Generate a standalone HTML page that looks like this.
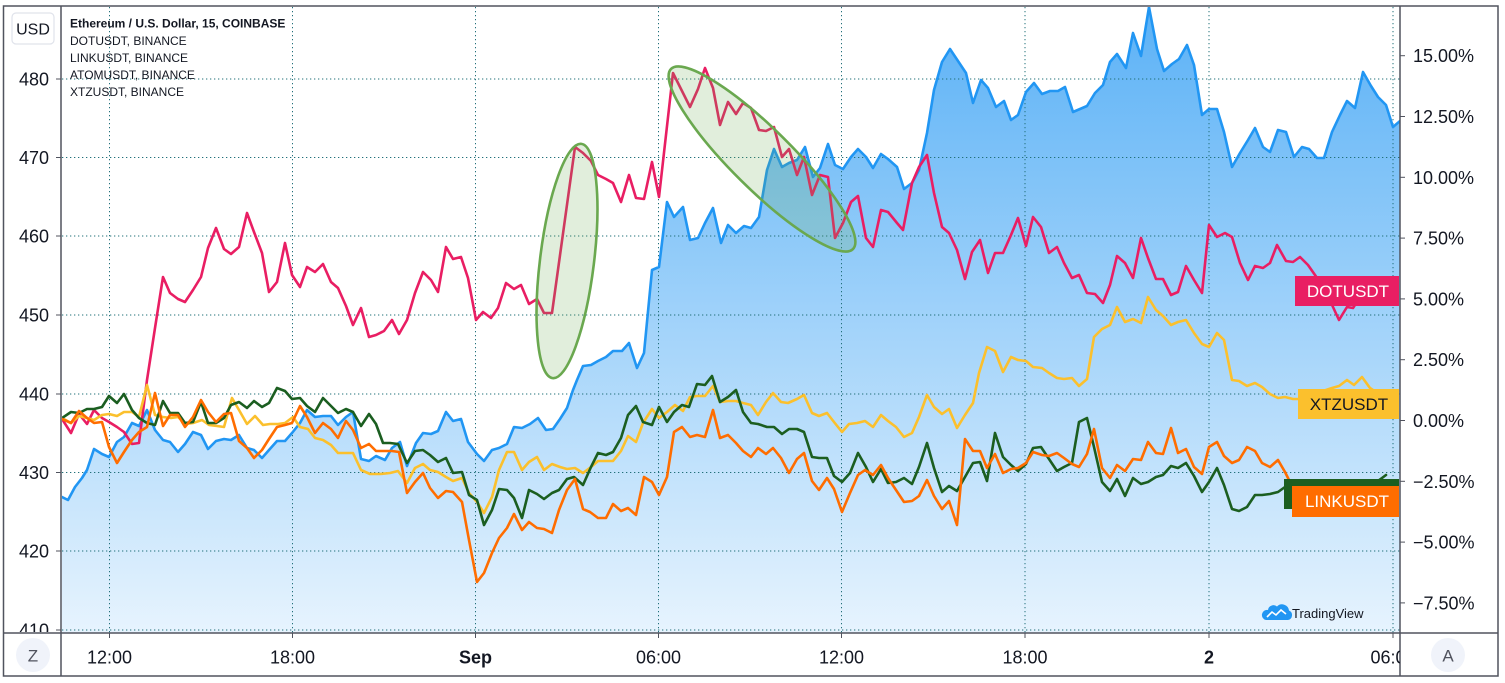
<!DOCTYPE html>
<html><head><meta charset="utf-8"><style>
html,body{margin:0;padding:0;background:#fff;}
svg{display:block;}
text{font-family:"Liberation Sans",sans-serif;}
</style></head><body>
<svg width="1505" height="683" viewBox="0 0 1505 683" xmlns="http://www.w3.org/2000/svg">
<defs>
<clipPath id="plot"><rect x="62" y="7" width="1338" height="626"/></clipPath>
<clipPath id="laxis"><rect x="4" y="7" width="57" height="625"/></clipPath>
<clipPath id="baxis"><rect x="62" y="634" width="1338" height="42"/></clipPath>
<linearGradient id="gf" gradientUnits="userSpaceOnUse" x1="0" y1="7" x2="0" y2="633">
<stop offset="0" stop-color="#2196f3" stop-opacity="0.74"/>
<stop offset="1" stop-color="#2196f3" stop-opacity="0.11"/>
</linearGradient>
</defs>
<rect width="1505" height="683" fill="#fff"/>

<g clip-path="url(#plot)">
<path fill="url(#gf)" stroke="none" d="M62,497 L68,500 75,487 82,478 87,470 94,449 102,454 109,457 117,442 124,437 132,423 139,426 147,410 155,430 163,440 170,442 178,452 185,444 193,432 201,435 208,449 216,441 224,439 231,440 239,435 247,448 254,450 262,458 269,450 277,441 285,441 292,433 300,423 307,410 315,417 323,416 331,416 338,425 346,417 353,412 361,459 369,461 376,456 385,460 392,448 400,442 407,466 416,443 423,433 431,434 438,431 446,412 453,421 461,419 468,442 477,454 484,461 492,450 499,448 507,444 514,427 522,428 530,424 538,418 546,430 553,429 560,419 567,408 573,390 577,380 583,366 591,365 598,361 606,357 613,351 622,351 629,343 637,368 644,353 652,270 659,267 667,202 674,217 683,207 690,240 698,238 705,223 713,208 721,243 728,225 736,233 744,226 751,228 759,217 767,170 774,149 782,167 789,163 797,160 805,147 813,177 820,168 828,144 835,165 843,169 851,157 858,149 866,157 873,168 881,154 888,159 897,167 904,189 912,183 919,170 927,133 934,90 942,62 950,49 958,61 966,73 973,103 981,80 988,88 996,107 1004,101 1011,120 1018,115 1026,92 1034,83 1042,94 1050,91 1058,91 1065,87 1073,112 1080,109 1087,106 1095,93 1103,85 1110,62 1117,54 1126,68 1133,33 1141,56 1149,7 1157,49 1164,71 1172,64 1179,59 1187,45 1194,65 1202,115 1209,109 1217,109 1224,132 1232,167 1240,153 1248,140 1255,128 1263,147 1270,152 1278,130 1286,132 1294,157 1302,147 1309,149 1317,158 1324,158 1332,132 1340,115 1347,101 1355,108 1363,72 1371,86 1378,97 1386,105 1393,127 1400,121 L1400,633 L62,633 Z"/>
</g>

<g stroke="#22707a" stroke-width="1" stroke-dasharray="1.3 2.7" fill="none">
<line x1="62" y1="79" x2="1400" y2="79"/>
<line x1="62" y1="157.5" x2="1400" y2="157.5"/>
<line x1="62" y1="236" x2="1400" y2="236"/>
<line x1="62" y1="315" x2="1400" y2="315"/>
<line x1="62" y1="394" x2="1400" y2="394"/>
<line x1="62" y1="472.5" x2="1400" y2="472.5"/>
<line x1="62" y1="551" x2="1400" y2="551"/>
<line x1="62" y1="630" x2="1400" y2="630"/>
<line x1="109.5" y1="7" x2="109.5" y2="633"/>
<line x1="292.5" y1="7" x2="292.5" y2="633"/>
<line x1="475.5" y1="7" x2="475.5" y2="633"/>
<line x1="658.5" y1="7" x2="658.5" y2="633"/>
<line x1="841.5" y1="7" x2="841.5" y2="633"/>
<line x1="1025" y1="7" x2="1025" y2="633"/>
<line x1="1209" y1="7" x2="1209" y2="633"/>
<line x1="1393" y1="7" x2="1393" y2="633"/>
</g>

<g clip-path="url(#plot)" fill="none" stroke-width="2.6" stroke-linejoin="round" stroke-linecap="round">
<polyline stroke="#2196f3" points="62,497 68,500 75,487 82,478 87,470 94,449 102,454 109,457 117,442 124,437 132,423 139,426 147,410 155,430 163,440 170,442 178,452 185,444 193,432 201,435 208,449 216,441 224,439 231,440 239,435 247,448 254,450 262,458 269,450 277,441 285,441 292,433 300,423 307,410 315,417 323,416 331,416 338,425 346,417 353,412 361,459 369,461 376,456 385,460 392,448 400,442 407,466 416,443 423,433 431,434 438,431 446,412 453,421 461,419 468,442 477,454 484,461 492,450 499,448 507,444 514,427 522,428 530,424 538,418 546,430 553,429 560,419 567,408 573,390 577,380 583,366 591,365 598,361 606,357 613,351 622,351 629,343 637,368 644,353 652,270 659,267 667,202 674,217 683,207 690,240 698,238 705,223 713,208 721,243 728,225 736,233 744,226 751,228 759,217 767,170 774,149 782,167 789,163 797,160 805,147 813,177 820,168 828,144 835,165 843,169 851,157 858,149 866,157 873,168 881,154 888,159 897,167 904,189 912,183 919,170 927,133 934,90 942,62 950,49 958,61 966,73 973,103 981,80 988,88 996,107 1004,101 1011,120 1018,115 1026,92 1034,83 1042,94 1050,91 1058,91 1065,87 1073,112 1080,109 1087,106 1095,93 1103,85 1110,62 1117,54 1126,68 1133,33 1141,56 1149,7 1157,49 1164,71 1172,64 1179,59 1187,45 1194,65 1202,115 1209,109 1217,109 1224,132 1232,167 1240,153 1248,140 1255,128 1263,147 1270,152 1278,130 1286,132 1294,157 1302,147 1309,149 1317,158 1324,158 1332,132 1340,115 1347,101 1355,108 1363,72 1371,86 1378,97 1386,105 1393,127 1400,121"/>
<polyline stroke="#e91e63" points="62,419 71,433 79,414 87,424 94,410 102,418 109,422 117,427 124,432 132,444 139,443 147,380 155,328 163,277 170,293 178,299 185,302 193,290 201,277 208,248 216,228 224,249 231,254 239,247 247,213 254,232 262,253 269,292 277,282 285,243 292,275 300,287 307,267 315,272 323,264 331,282 338,288 346,306 353,325 361,308 369,337 376,335 384,331 392,320 399,334 407,320 415,293 423,272 431,280 438,292 446,247 453,259 461,257 468,278 476,320 483,312 491,318 498,308 506,283 514,289 521,285 529,304 537,299 544,313 552,313 575,147 583,153 591,161 598,175 606,179 613,183 621,202 629,175 636,198 644,199 652,162 659,197 673,73 681,89 690,107 698,89 705,68 713,88 720,125 728,102 736,114 743,103 751,108 759,130 766,131 774,127 782,157 789,149 797,175 804,157 812,195 820,175 828,177 835,238 843,223 851,202 858,196 866,238 873,247 881,210 888,212 897,223 903,230 912,183 919,167 927,155 934,193 942,227 949,233 957,250 965,279 972,252 980,240 988,273 995,253 1003,253 1011,235 1018,218 1026,246 1033,217 1041,227 1049,253 1057,247 1064,263 1072,278 1079,275 1087,293 1095,294 1103,303 1110,285 1117,256 1125,263 1133,278 1141,238 1148,258 1156,279 1163,279 1171,295 1178,292 1186,266 1194,280 1202,293 1209,225 1217,237 1225,233 1232,237 1240,263 1248,280 1255,266 1263,268 1270,263 1277,245 1286,261 1293,262 1300,257 1308,265 1315,275 1325,290 1333,307 1339,320 1347,307 1353,308 1358,300"/>
<polyline stroke="#fbc02d" points="62,418 71,423 79,416 87,418 94,420 102,415 109,414 117,416 124,412 132,412 139,417 147,385 155,415 163,417 171,418 178,417 186,424 193,423 202,420 209,425 217,426 224,427 232,398 239,410 247,424 255,416 263,425 270,424 278,424 285,423 293,417 300,427 308,429 315,438 323,440 331,445 338,453 346,453 353,453 361,470 370,474 380,474 390,473 398,471 407,483 415,468 423,464 430,470 438,472 446,477 453,481 462,478 469,493 477,502 484,513 492,497 499,470 507,452 514,452 522,470 529,462 537,457 544,470 552,464 560,467 567,469 575,468 583,473 591,467 598,461 606,461 613,461 621,451 628,436 636,442 643,423 652,409 659,418 667,412 675,405 683,411 690,397 697,396 705,396 713,386 720,402 728,401 736,401 743,403 751,405 758,415 766,402 773,393 781,402 788,403 797,399 804,395 812,413 819,416 827,413 834,422 842,432 849,424 857,423 865,421 873,427 881,415 888,421 896,427 904,437 912,433 919,417 927,395 934,407 942,414 949,409 957,428 965,415 973,403 979,373 987,347 995,351 1003,372 1011,357 1018,360 1026,361 1033,367 1042,368 1049,373 1057,378 1064,379 1072,378 1079,386 1087,379 1094,337 1102,329 1110,325 1117,307 1125,322 1133,319 1141,323 1148,297 1156,310 1163,316 1171,325 1178,322 1186,320 1194,333 1202,344 1209,347 1217,333 1224,340 1232,380 1239,381 1247,386 1255,383 1262,387 1270,394 1278,398 1285,397 1293,399 1300,399 1310,397 1320,392 1332,388 1339,386 1347,380 1354,385 1362,377 1370,388 1380,395 1386,398"/>
<polyline stroke="#1b5e20" points="62,418 71,412 79,413 87,409 94,409 102,407 109,396 117,403 124,394 132,410 139,418 147,423 155,425 163,401 170,413 178,413 185,423 193,422 201,402 208,423 216,423 224,418 231,405 239,402 247,408 254,401 262,407 269,403 277,388 285,391 292,399 300,398 307,406 315,412 323,398 331,406 338,413 346,409 353,412 361,426 369,414 376,424 383,443 390,443 398,444 407,463 415,451 423,450 430,455 438,462 446,458 453,473 462,472 469,495 477,500 484,525 492,510 499,489 507,490 514,498 522,518 529,490 537,494 544,499 552,493 559,490 567,479 574,477 583,485 591,467 598,453 606,455 613,452 621,438 628,415 636,406 643,422 652,425 659,407 667,422 674,412 682,405 689,407 697,384 705,385 712,376 720,402 728,397 736,390 743,412 751,423 758,424 767,427 774,427 782,434 789,429 797,429 804,432 812,457 819,458 827,458 834,476 842,482 850,473 858,453 866,467 873,482 881,469 888,483 896,482 904,478 912,484 919,467 927,443 934,468 942,492 949,486 957,491 965,477 973,463 980,462 987,481 995,433 1003,457 1011,465 1018,471 1026,464 1033,448 1041,447 1049,459 1057,471 1064,467 1072,463 1079,422 1087,418 1094,447 1102,482 1110,491 1117,479 1125,496 1133,478 1141,484 1148,482 1156,477 1163,475 1171,466 1178,468 1186,463 1194,476 1202,492 1209,482 1217,468 1224,485 1232,509 1239,511 1247,507 1255,495 1262,495 1270,494 1278,492 1285,487 1300,485 1350,485 1375,483 1382,478 1386,475"/>
<polyline stroke="#ff6d00" points="62,419 71,423 79,411 87,418 94,423 102,422 109,447 117,463 124,452 132,440 139,432 147,427 155,393 163,426 170,415 178,415 185,427 193,417 201,400 208,412 216,422 224,414 231,413 239,441 247,448 254,458 262,450 269,439 277,427 285,425 292,423 300,406 307,417 315,433 323,423 331,429 338,438 346,421 353,430 361,448 369,444 376,451 384,451 392,451 399,452 407,493 415,482 423,473 430,488 438,498 446,491 453,492 462,502 469,540 477,582 484,573 492,553 499,538 507,528 514,514 522,530 529,522 537,528 544,529 552,533 559,510 567,490 575,479 583,509 590,512 598,518 606,518 613,504 621,511 628,508 636,515 644,477 652,482 659,495 667,477 674,432 682,427 690,437 697,435 705,437 713,410 720,438 728,435 736,443 743,451 751,457 758,448 766,454 773,448 781,458 789,473 797,459 804,453 812,481 819,490 827,478 834,489 842,512 850,493 858,475 865,470 873,475 881,465 888,478 896,490 904,502 912,501 919,496 927,480 934,496 942,509 949,501 957,525 965,439 973,451 980,451 987,468 995,454 1003,473 1011,469 1018,468 1026,463 1033,452 1042,455 1049,456 1057,453 1064,458 1072,464 1079,467 1087,454 1094,429 1102,468 1110,478 1117,465 1125,471 1133,459 1141,460 1148,442 1156,453 1163,454 1171,428 1178,453 1186,449 1194,467 1202,474 1209,447 1217,442 1224,456 1232,463 1239,460 1247,447 1255,451 1262,463 1270,467 1278,460 1285,472 1290,482 1295,495 1300,500"/>
</g>

<g fill="rgba(106,168,79,0.2)" stroke="#6aa84f" stroke-width="2.6">
<ellipse cx="567" cy="261" rx="27" ry="118" transform="rotate(7 567 261)"/>
<ellipse cx="762" cy="159" rx="128" ry="30" transform="rotate(44.7 762 159)"/>
</g>

<rect x="1295" y="276" width="104" height="30" fill="#e91e63"/>
<text x="1348" y="297" font-size="17" fill="#fff" text-anchor="middle">DOTUSDT</text>
<rect x="1298" y="389" width="101" height="30" fill="#fbc02d"/>
<text x="1349" y="410" font-size="17" fill="#131722" text-anchor="middle">XTZUSDT</text>
<rect x="1284" y="479" width="115" height="30" fill="#1b5e20"/>
<rect x="1292" y="486" width="107" height="31" fill="#ff6d00"/>
<text x="1347" y="507" font-size="17" fill="#fff" text-anchor="middle">LINKUSDT</text>

<g>
<path d="M1266,620 L1288,620 A5,5 0 0 0 1289,610.5 A7,7 0 0 0 1277,606.5 A5.5,5.5 0 0 0 1268,610 A5,5 0 0 0 1266,620 Z" fill="#2196f3"/>
<polyline points="1267,617 1272,612 1276,615 1281,610 1286,614" fill="none" stroke="#fff" stroke-width="1.6"/>
<text x="1292" y="618" font-size="13" fill="#131722">TradingView</text>
</g>

<g fill="#131722" font-size="12">
<text x="70" y="27.5" font-weight="bold">Ethereum / U.S. Dollar, 15, COINBASE</text>
<text x="70" y="45">DOTUSDT, BINANCE</text>
<text x="70" y="62">LINKUSDT, BINANCE</text>
<text x="70" y="79">ATOMUSDT, BINANCE</text>
<text x="70" y="96">XTZUSDT, BINANCE</text>
</g>

<g stroke="#50535e" stroke-width="1.5" fill="none">
<rect x="3.5" y="6" width="1494.5" height="670"/>
<line x1="61" y1="6" x2="61" y2="676"/>
<line x1="1400" y1="6" x2="1400" y2="676"/>
<line x1="3.5" y1="633" x2="1498" y2="633"/>
</g>
<g stroke="#50535e" stroke-width="1">
<line x1="56" y1="79" x2="61" y2="79"/><line x1="56" y1="157.5" x2="61" y2="157.5"/><line x1="56" y1="236" x2="61" y2="236"/><line x1="56" y1="315" x2="61" y2="315"/><line x1="56" y1="394" x2="61" y2="394"/><line x1="56" y1="472.5" x2="61" y2="472.5"/><line x1="56" y1="551" x2="61" y2="551"/><line x1="56" y1="630" x2="61" y2="630"/>
<line x1="1400" y1="55.7" x2="1405" y2="55.7"/><line x1="1400" y1="116.5" x2="1405" y2="116.5"/><line x1="1400" y1="177.3" x2="1405" y2="177.3"/><line x1="1400" y1="238.1" x2="1405" y2="238.1"/><line x1="1400" y1="298.9" x2="1405" y2="298.9"/><line x1="1400" y1="359.7" x2="1405" y2="359.7"/><line x1="1400" y1="420.5" x2="1405" y2="420.5"/><line x1="1400" y1="481.3" x2="1405" y2="481.3"/><line x1="1400" y1="542.1" x2="1405" y2="542.1"/><line x1="1400" y1="602.9" x2="1405" y2="602.9"/>
<line x1="109.5" y1="633" x2="109.5" y2="638"/><line x1="292.5" y1="633" x2="292.5" y2="638"/><line x1="475.5" y1="633" x2="475.5" y2="638"/><line x1="658.5" y1="633" x2="658.5" y2="638"/><line x1="841.5" y1="633" x2="841.5" y2="638"/><line x1="1025" y1="633" x2="1025" y2="638"/><line x1="1209" y1="633" x2="1209" y2="638"/><line x1="1393" y1="633" x2="1393" y2="638"/>
</g>

<rect x="12" y="13" width="42" height="31" rx="4" fill="#fff" stroke="#e0e3eb" stroke-width="1.2"/>
<text x="33" y="34.5" font-size="16" fill="#131722" text-anchor="middle">USD</text>

<g clip-path="url(#laxis)" fill="#131722" font-size="18" text-anchor="end">
<text x="49" y="85.5">480</text>
<text x="49" y="164">470</text>
<text x="49" y="242.5">460</text>
<text x="49" y="321.5">450</text>
<text x="49" y="400.5">440</text>
<text x="49" y="479">430</text>
<text x="49" y="557.5">420</text>
<text x="49" y="636.5">410</text>
</g>

<g fill="#131722" font-size="18">
<text x="1413" y="62">15.00%</text>
<text x="1413" y="123">12.50%</text>
<text x="1413" y="183.8">10.00%</text>
<text x="1413" y="244.6">7.50%</text>
<text x="1413" y="305.4">5.00%</text>
<text x="1413" y="366.2">2.50%</text>
<text x="1413" y="427">0.00%</text>
<text x="1413" y="487.8">−2.50%</text>
<text x="1413" y="548.6">−5.00%</text>
<text x="1413" y="609.4">−7.50%</text>
</g>

<g clip-path="url(#baxis)" fill="#131722" font-size="18" text-anchor="middle">
<text x="109.5" y="663.5">12:00</text>
<text x="292.5" y="663.5">18:00</text>
<text x="475.5" y="663.5" font-weight="bold">Sep</text>
<text x="658.5" y="663.5">06:00</text>
<text x="841.5" y="663.5">12:00</text>
<text x="1025" y="663.5">18:00</text>
<text x="1209" y="663.5" font-weight="bold">2</text>
<text x="1393" y="663.5">06:00</text>
</g>

<circle cx="33" cy="655" r="17" fill="#f0f3fa"/>
<text x="33" y="661.5" font-size="17" fill="#50535e" text-anchor="middle">Z</text>
<circle cx="1448" cy="655" r="17" fill="#f0f3fa"/>
<text x="1448" y="661.5" font-size="17" fill="#50535e" text-anchor="middle">A</text>
</svg>
</body></html>
